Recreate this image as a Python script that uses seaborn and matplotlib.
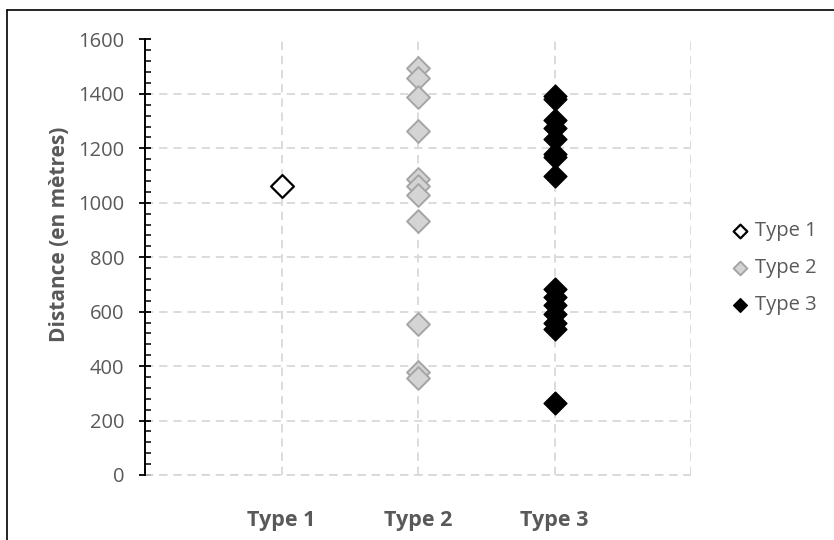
import numpy as np
import pandas as pd
import seaborn as sns
import matplotlib.pyplot as plt
from matplotlib.ticker import MultipleLocator, FixedLocator

# values (distance in metres)
categories = ['Type 1', 'Type 2', 'Type 3']
type1 = [1060]
type2 = [1495, 1460, 1388, 1265, 1088, 1060, 1030, 935, 553, 378, 355]
type3 = [1392, 1382, 1305, 1275, 1235, 1180, 1170, 1097,
         685, 655, 625, 590, 560, 535, 265]

df = pd.DataFrame({
    'type': ['Type 1'] * len(type1) + ['Type 2'] * len(type2) + ['Type 3'] * len(type3),
    'distance': type1 + type2 + type3,
})
df['x'] = df['type'].map({c: i + 1 for i, c in enumerate(categories)})

sns.set_theme(style='white')
plt.rcParams['font.family'] = ['Open Sans', 'DejaVu Sans']
txt = '#595959'

fig = plt.figure(figsize=(8.34, 5.40), dpi=100)
ax = fig.add_axes([145 / 834, 1 - 475 / 540, 546 / 834, 435.5 / 540])

styles = {
    'Type 1': dict(color='white', edgecolor='black', linewidth=1.6),
    'Type 2': dict(color='#d4d4d4', edgecolor='#a5a5a5', linewidth=1.4),
    'Type 3': dict(color='black', edgecolor='black', linewidth=1.0),
}
for t in categories:
    sub = df[df['type'] == t]
    sns.scatterplot(data=sub, x='x', y='distance', marker='D', s=135,
                    label=t, ax=ax, zorder=3, **styles[t])

ax.set_xlim(0, 4)
ax.set_ylim(0, 1600)
ax.xaxis.set_major_locator(FixedLocator([1, 2, 3, 4]))
ax.yaxis.set_major_locator(MultipleLocator(200))
ax.yaxis.set_minor_locator(MultipleLocator(40))
grid_kw = dict(color='#d6d6d6', linestyle=(0, (5, 3.5)), linewidth=1.2)
ax.grid(True, which='major', zorder=0, **grid_kw)
ax.axhline(0, clip_on=False, zorder=1, **grid_kw)
ax.set_axisbelow(True)

for side in ['top', 'right', 'bottom']:
    ax.spines[side].set_visible(False)
ax.spines['left'].set_color('black')
ax.spines['left'].set_linewidth(1.4)
ax.spines['left'].set_zorder(2)

ax.tick_params(axis='y', which='major', direction='inout', length=8, width=1.3,
               color='black', labelsize=14.5, labelcolor=txt, left=True, pad=11)
ax.tick_params(axis='y', which='minor', direction='in', length=4, width=1.1,
               color='black', left=True)
ax.tick_params(axis='x', which='both', length=0, pad=25)
ax.set_xticks([1, 2, 3, 4])
ax.set_xticklabels(categories + [''], fontsize=15.5, fontweight='bold', color=txt)

ax.set_xlabel('')
ax.set_ylabel('Distance (en mètres)', fontsize=15, fontweight='bold', color=txt, labelpad=6)
ax.yaxis.label.set_y(0.552)

leg = ax.legend(loc='center left', bbox_to_anchor=(722 / 834, 1 - 268 / 540),
                bbox_transform=fig.transFigure, frameon=False, fontsize=14.5,
                markerscale=0.6, handletextpad=0.25, labelspacing=0.85,
                borderaxespad=0, handlelength=1.0)
for t in leg.get_texts():
    t.set_color(txt)

# chart border (top and left edges visible in the reference)
fig.add_artist(plt.Line2D([7 / 834, 1], [1 - 10 / 540, 1 - 10 / 540],
                          transform=fig.transFigure, color='black', linewidth=1.2))
fig.add_artist(plt.Line2D([7 / 834, 7 / 834], [0, 1 - 10 / 540],
                          transform=fig.transFigure, color='black', linewidth=1.2))

plt.savefig('out.png', dpi=100)
